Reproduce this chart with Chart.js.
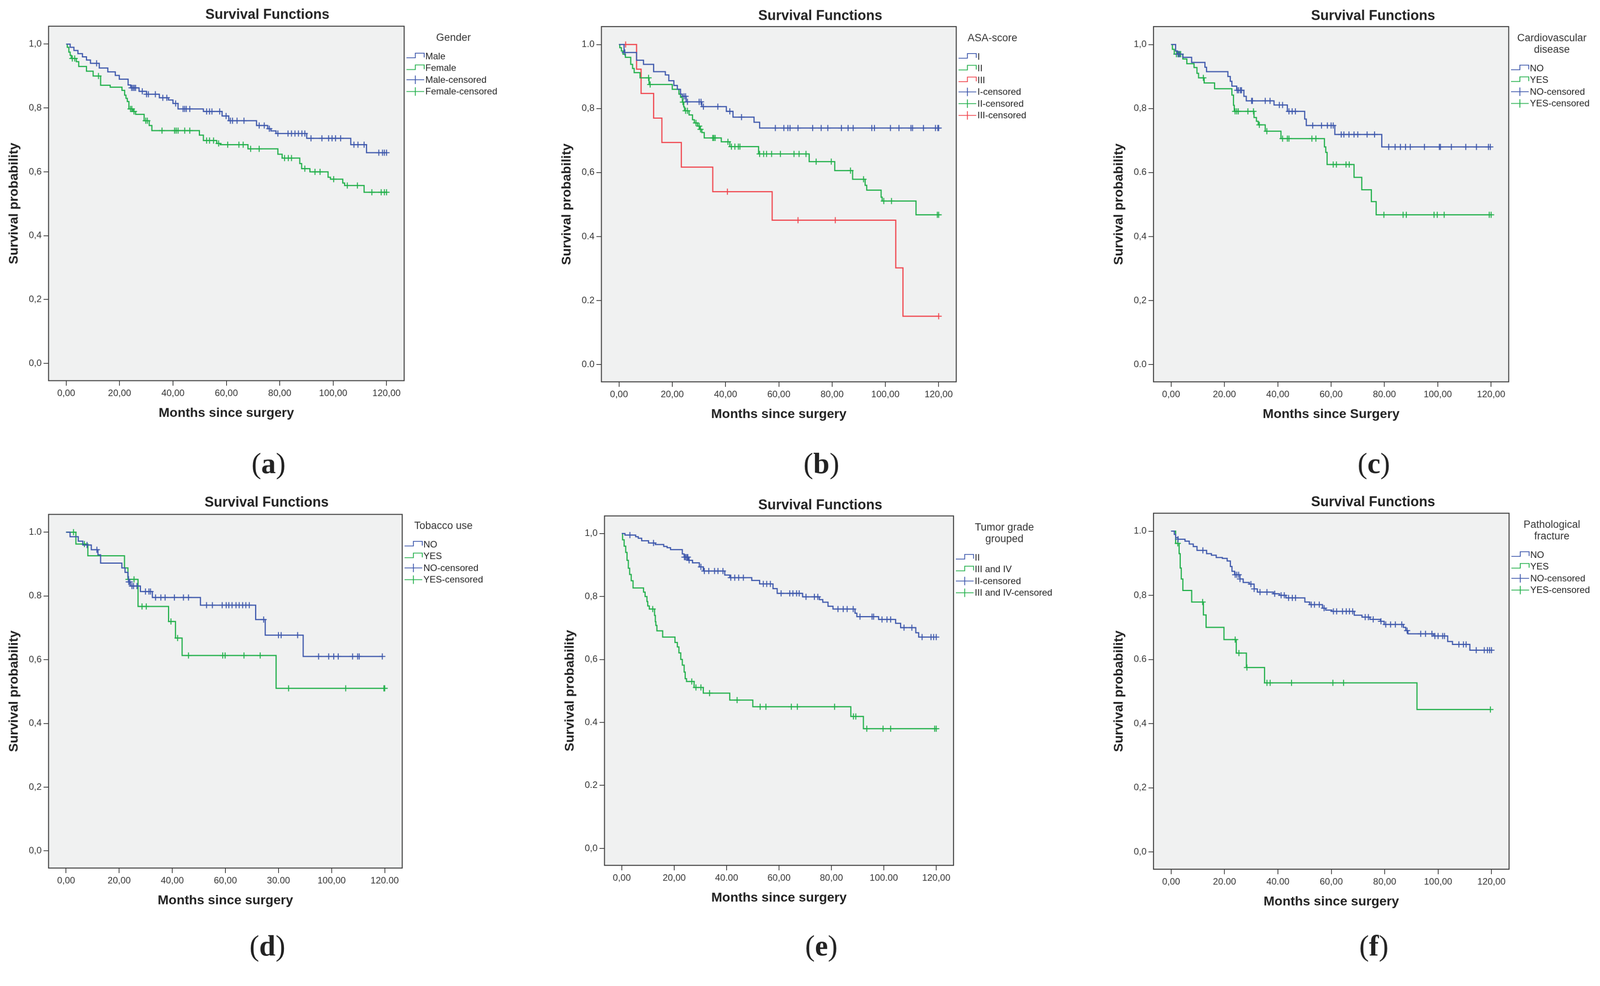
<!DOCTYPE html>
<html>
<head>
<meta charset="utf-8">
<script src="https://cdn.jsdelivr.net/npm/chart.js@4.4.1/dist/chart.umd.min.js"></script>
<style>
  html, body { margin: 0; padding: 0; background: #fff; overflow: hidden; }
  #page { position: absolute; left: 0; top: 0; width: 4153px; height: 2524px; transform-origin: 0 0; background: #fff; }
  canvas { position: absolute; }
</style>
</head>
<body>
<div id="page"></div>
<script>
// ---- data: event times (months), survival after each event, censored times ----
const xTickVals = [0, 20, 40, 60, 80, 100, 120];
const yTickVals = [0, 0.2, 0.4, 0.6, 0.8, 1.0];

// (a) Gender
const aMaleT = [1.5, 2.9, 4.4, 6.1, 7.6, 9.1, 12.4, 15.6, 18.4, 19.9, 23.2, 24.2, 27.3, 30.1, 34.9, 38.3, 40.0, 41.9, 51.4, 58.4, 60.9, 71.3, 75.5, 76.7, 78.6, 90.1, 106.6, 112.5];
const aMaleS = [0.99, 0.98, 0.97, 0.96, 0.95, 0.94, 0.925, 0.913, 0.902, 0.89, 0.872, 0.863, 0.852, 0.843, 0.832, 0.825, 0.814, 0.797, 0.789, 0.775, 0.76, 0.745, 0.735, 0.728, 0.72, 0.705, 0.685, 0.66];
const aMaleC = [11.4, 24.5, 25.0, 25.5, 26.0, 28.5, 30.1, 30.8, 33.4, 36.2, 37.7, 41.0, 43.8, 44.4, 45.0, 46.3, 52.6, 53.7, 54.6, 57.5, 59.9, 61.5, 62.3, 64.0, 66.6, 72.3, 74.2, 76.1, 79.3, 83.1, 84.4, 85.7, 87.0, 88.3, 89.4, 91.7, 95.8, 98.3, 99.6, 100.9, 102.8, 107.8, 109.3, 111.6, 117.1, 118.5, 119.2, 120.0];
const aFemT = [0.4, 1.0, 1.5, 1.9, 3.8, 4.7, 7.6, 10.1, 12.9, 16.5, 20.9, 21.9, 22.4, 22.9, 23.5, 25.0, 26.0, 29.2, 31.1, 32.1, 49.9, 51.4, 56.4, 57.7, 68.1, 79.3, 80.9, 87.5, 88.2, 91.3, 98.1, 99.0, 103.6, 104.3, 111.6];
const aFemS = [0.99, 0.975, 0.965, 0.955, 0.945, 0.93, 0.915, 0.9, 0.871, 0.865, 0.855, 0.84, 0.83, 0.82, 0.797, 0.789, 0.78, 0.76, 0.745, 0.729, 0.715, 0.698, 0.689, 0.685, 0.672, 0.655, 0.643, 0.626, 0.61, 0.6, 0.583, 0.577, 0.565, 0.557, 0.536];
const aFemC = [2.3, 3.2, 12.1, 24.1, 24.6, 25.4, 29.8, 30.4, 35.9, 40.6, 41.2, 41.9, 44.4, 46.3, 52.6, 53.7, 55.2, 57.1, 60.5, 64.7, 66.3, 69.1, 72.3, 81.8, 83.2, 84.4, 89.4, 93.2, 95.1, 100.2, 105.3, 109.1, 114.5, 118.0, 119.2, 120.0];

// (b) ASA-score
const bIT = [1.9, 6.6, 9.2, 13.0, 17.4, 18.7, 20.6, 21.9, 23.1, 23.8, 25.2, 31.1, 40.3, 42.8, 50.7, 52.8];
const bIS = [0.975, 0.951, 0.938, 0.915, 0.905, 0.887, 0.872, 0.86, 0.845, 0.838, 0.821, 0.806, 0.791, 0.773, 0.757, 0.739];
const bIC = [2.2, 24.4, 25.0, 25.7, 30.1, 30.8, 31.7, 37.1, 41.6, 46.0, 58.7, 61.9, 63.4, 64.2, 67.2, 72.7, 75.9, 78.4, 83.5, 86.0, 87.9, 94.9, 95.9, 101.9, 105.1, 109.6, 110.2, 114.3, 118.8, 119.7, 120.0];
const bIIT = [0.3, 0.9, 1.5, 2.4, 4.4, 5.1, 5.7, 7.9, 11.3, 20.0, 22.5, 23.1, 23.8, 24.3, 24.6, 26.3, 27.6, 28.3, 29.5, 30.2, 31.1, 32.0, 38.4, 41.6, 52.4, 71.4, 81.0, 87.7, 92.4, 93.0, 98.4, 98.8, 111.5];
const bIIS = [0.99, 0.98, 0.97, 0.96, 0.938, 0.925, 0.912, 0.896, 0.875, 0.86, 0.845, 0.835, 0.82, 0.805, 0.793, 0.78, 0.765, 0.755, 0.745, 0.735, 0.725, 0.708, 0.696, 0.681, 0.658, 0.634, 0.606, 0.579, 0.56, 0.545, 0.523, 0.511, 0.468];
const bIIC = [11.1, 11.7, 24.0, 25.0, 25.7, 28.9, 30.1, 30.6, 35.2, 35.6, 36.1, 40.9, 42.2, 43.5, 44.8, 45.4, 52.8, 54.3, 55.4, 57.3, 60.6, 65.7, 67.6, 70.2, 74.0, 79.7, 86.9, 91.8, 99.4, 102.3, 119.5, 120.0];
const bIIIT = [6.6, 8.3, 13.0, 16.1, 23.4, 35.2, 57.5, 103.9, 106.6];
const bIIIS = [0.923, 0.847, 0.77, 0.694, 0.617, 0.54, 0.451, 0.302, 0.151];
const bIIIC = [2.5, 40.7, 67.2, 81.2, 120.0];

// (c) Cardiovascular disease
const cNoT = [1.7, 2.4, 4.4, 7.7, 12.7, 13.3, 21.3, 22.2, 22.8, 24.6, 27.3, 28.2, 38.6, 43.6, 50.1, 50.7, 61.4, 79.0];
const cNoS = [0.98, 0.97, 0.96, 0.944, 0.929, 0.915, 0.9, 0.885, 0.87, 0.857, 0.838, 0.824, 0.811, 0.791, 0.767, 0.747, 0.719, 0.68];
const cNoC = [2.6, 3.2, 24.8, 25.3, 26.0, 26.4, 30.2, 30.5, 35.3, 37.1, 40.6, 41.8, 44.2, 45.4, 46.6, 53.1, 56.4, 58.6, 60.0, 60.8, 63.8, 64.8, 66.7, 68.6, 70.0, 73.5, 76.3, 81.6, 84.0, 86.0, 87.9, 89.7, 95.0, 100.6, 101.0, 105.1, 110.5, 114.5, 119.0, 119.7];
const cYesT = [0.5, 1.2, 4.4, 5.9, 8.6, 9.7, 10.3, 12.4, 16.3, 22.8, 23.4, 23.7, 31.1, 32.0, 32.7, 35.3, 41.2, 57.5, 58.0, 58.5, 68.6, 71.5, 75.1, 76.9];
const cYesS = [0.985, 0.97, 0.955, 0.94, 0.928, 0.91, 0.896, 0.88, 0.862, 0.842, 0.81, 0.791, 0.772, 0.76, 0.749, 0.729, 0.706, 0.68, 0.663, 0.625, 0.585, 0.546, 0.509, 0.468];
const cYesC = [2.0, 2.9, 3.6, 12.1, 24.0, 24.6, 25.2, 28.8, 30.9, 33.1, 35.9, 41.8, 43.6, 44.2, 52.8, 54.3, 60.8, 62.0, 65.6, 66.8, 79.8, 87.0, 88.2, 98.6, 99.8, 102.4, 119.3, 120.0];

// (d) Tobacco use
const dNoT = [1.5, 4.6, 6.3, 9.5, 12.0, 13.0, 21.0, 22.2, 23.3, 23.5, 24.2, 28.0, 32.5, 50.6, 71.4, 75.0, 89.3];
const dNoS = [0.986, 0.972, 0.96, 0.945, 0.929, 0.903, 0.888, 0.874, 0.86, 0.844, 0.831, 0.814, 0.795, 0.771, 0.726, 0.677, 0.61];
const dNoC = [7.9, 11.6, 23.6, 24.0, 24.8, 25.4, 26.7, 29.9, 31.2, 31.8, 33.7, 35.7, 37.3, 40.8, 44.2, 46.1, 52.9, 55.1, 58.8, 60.3, 61.3, 62.5, 64.0, 65.2, 66.5, 67.7, 69.0, 74.4, 80.0, 81.0, 87.2, 95.1, 98.9, 100.8, 102.5, 107.9, 109.8, 110.4, 119.1];
const dYesT = [3.7, 8.2, 22.0, 23.3, 27.1, 38.6, 41.2, 43.7, 79.1];
const dYesS = [0.963, 0.926, 0.888, 0.852, 0.767, 0.72, 0.668, 0.613, 0.51];
const dYesC = [2.8, 6.9, 23.5, 25.6, 28.6, 30.2, 39.5, 42.0, 46.1, 59.0, 59.9, 67.0, 73.1, 83.8, 105.3, 119.7, 120.0];

// (e) Tumor grade grouped
const eIIT = [1.2, 5.3, 6.3, 7.6, 10.2, 12.8, 16.0, 17.3, 18.6, 23.1, 23.8, 25.4, 27.0, 29.6, 31.1, 39.3, 41.2, 49.6, 52.6, 57.7, 59.3, 69.0, 75.4, 76.7, 78.7, 80.6, 89.0, 89.7, 98.0, 104.5, 106.4, 112.2, 113.3];
const eIIS = [0.995, 0.99, 0.985, 0.977, 0.97, 0.965, 0.959, 0.955, 0.949, 0.935, 0.925, 0.915, 0.907, 0.894, 0.881, 0.868, 0.86, 0.851, 0.84, 0.825, 0.81, 0.799, 0.79, 0.782, 0.769, 0.76, 0.747, 0.736, 0.727, 0.715, 0.701, 0.685, 0.671];
const eIIC = [3.1, 12.1, 23.9, 24.3, 24.8, 25.2, 25.7, 30.2, 31.5, 33.2, 35.4, 36.7, 38.6, 41.6, 43.1, 44.6, 46.4, 54.0, 55.3, 56.7, 60.8, 64.1, 65.3, 66.7, 67.7, 70.3, 73.5, 74.8, 82.5, 84.5, 86.0, 88.3, 90.9, 95.5, 96.1, 99.3, 101.2, 102.6, 107.7, 110.7, 114.6, 118.0, 119.0, 120.0];
const eIIIT = [0.3, 0.9, 1.5, 2.0, 2.5, 3.0, 3.6, 4.3, 8.3, 8.9, 9.6, 9.9, 10.5, 12.5, 12.8, 13.0, 13.4, 15.6, 20.3, 21.2, 21.8, 22.5, 23.1, 23.8, 24.2, 24.7, 27.6, 31.1, 41.2, 50.0, 87.4, 92.2];
const eIIIS = [0.98, 0.96, 0.94, 0.915, 0.89, 0.87, 0.85, 0.827, 0.814, 0.8, 0.784, 0.77, 0.76, 0.74, 0.72, 0.708, 0.691, 0.671, 0.654, 0.64, 0.621, 0.6, 0.582, 0.56, 0.539, 0.53, 0.511, 0.493, 0.471, 0.45, 0.419, 0.38];
const eIIIC = [11.8, 26.7, 28.3, 30.2, 33.5, 44.0, 52.8, 55.0, 64.7, 67.0, 81.2, 88.4, 89.3, 93.5, 99.7, 102.6, 119.4, 120.0];

// (f) Pathological fracture
const fNoT = [1.2, 1.7, 2.6, 5.2, 6.8, 8.3, 9.7, 13.3, 15.1, 16.9, 19.2, 21.0, 22.2, 22.8, 23.8, 25.8, 27.0, 29.3, 31.1, 32.3, 38.3, 40.6, 43.0, 50.1, 51.9, 56.7, 57.9, 60.2, 68.6, 71.5, 74.5, 78.4, 79.8, 87.0, 87.9, 88.7, 98.3, 103.6, 105.4, 111.9];
const fNoS = [0.99, 0.98, 0.975, 0.969, 0.96, 0.952, 0.94, 0.93, 0.925, 0.918, 0.915, 0.907, 0.89, 0.875, 0.864, 0.851, 0.84, 0.835, 0.82, 0.81, 0.805, 0.8, 0.792, 0.779, 0.771, 0.76, 0.754, 0.75, 0.738, 0.732, 0.725, 0.719, 0.709, 0.7, 0.69, 0.68, 0.673, 0.656, 0.647, 0.629];
const fNoC = [2.6, 11.9, 24.0, 24.6, 25.3, 25.8, 29.9, 31.1, 33.3, 35.9, 38.8, 41.2, 42.4, 44.0, 45.4, 46.6, 52.5, 53.7, 55.5, 57.3, 60.8, 62.0, 64.2, 65.6, 66.8, 68.0, 72.7, 73.9, 75.7, 78.6, 80.4, 82.2, 84.0, 86.4, 88.4, 93.5, 95.3, 97.7, 98.8, 100.0, 101.7, 102.4, 107.8, 109.5, 110.5, 114.3, 117.3, 118.5, 119.3, 120.0];
const fYesT = [1.7, 3.0, 3.4, 3.8, 4.4, 7.7, 12.1, 13.1, 19.8, 24.4, 28.2, 35.0, 92.1];
const fYesS = [0.962, 0.93, 0.885, 0.851, 0.815, 0.779, 0.739, 0.7, 0.662, 0.62, 0.575, 0.527, 0.444];
const fYesC = [2.5, 11.8, 24.0, 25.4, 28.4, 35.9, 37.1, 45.1, 60.6, 64.6, 119.6];

// tick labels as printed in each panel
const aYLab = ['0,0', '0,2', '0,4', '0,6', '0,8', '1,0'];
const aXLab = ['0,00', '20,00', '40,00', '60,00', '80,00', '100,00', '120,00'];
const bYLab = ['0.0', '0.2', '0.4', '0,6', '0,8', '1.0'];
const bXLab = ['0,00', '20,00', '40,00', '60,00', '80,00', '100,00', '120,00'];
const cYLab = ['0.0', '0,2', '0,4', '0.6', '0,8', '1,0'];
const cXLab = ['0,00', '20.00', '40,00', '60,00', '80.00', '100,00', '120,00'];
const dYLab = ['0,0', '0,2', '0,4', '0,6', '0.8', '1.0'];
const dXLab = ['0,00', '20,00', '40,00', '60,00', '30.00', '100,00', '120.00'];
const eYLab = ['0,0', '0.2', '0.4', '0,6', '0,8', '1,0'];
const eXLab = ['0,00', '20,00', '40.00', '60,00', '80,00', '100.00', '120,00'];
const fYLab = ['0,0', '0,2', '0,4', '0.6', '0,8', '1.0'];
const fXLab = ['0,00', '20.00', '40.00', '60,00', '80,00', '100,00', '120,00'];

const BLUE = '#3e58ac', GREEN = '#22b04b', RED = '#f0474f';

// layout, in page pixels
const panels = [
  { tag: 'a', plot: [126, 68, 1049, 988], title: [694, 39], legX: 1177, label: [697, 1208], legTitle: ['Gender'],
    names: ['Male', 'Female'], curves: [[aMaleT, aMaleS, aMaleC, BLUE], [aFemT, aFemS, aFemC, GREEN]], yLab: aYLab, xLab: aXLab, xTitle: 'Months since surgery' },
  { tag: 'b', plot: [1561, 69, 2482, 991], title: [2129, 42], legX: 2576, label: [2132, 1208], legTitle: ['ASA-score'],
    names: ['I', 'II', 'III'], curves: [[bIT, bIS, bIC, BLUE], [bIIT, bIIS, bIIC, GREEN], [bIIIT, bIIIS, bIIIC, RED]], yLab: bYLab, xLab: bXLab, xTitle: 'Months since surgery' },
  { tag: 'c', plot: [2994, 69, 3916, 991], title: [3564, 42], legX: 4028, label: [3566, 1208], legTitle: ['Cardiovascular', 'disease'],
    names: ['NO', 'YES'], curves: [[cNoT, cNoS, cNoC, BLUE], [cYesT, cYesS, cYesC, GREEN]], yLab: cYLab, xLab: cXLab, xTitle: 'Months since Surgery' },
  { tag: 'd', plot: [126, 1335, 1044, 2253], title: [692, 1305], legX: 1151, label: [694, 2460], legTitle: ['Tobacco use'],
    names: ['NO', 'YES'], curves: [[dNoT, dNoS, dNoC, BLUE], [dYesT, dYesS, dYesC, GREEN]], yLab: dYLab, xLab: dXLab, xTitle: 'Months since surgery' },
  { tag: 'e', plot: [1569, 1339, 2475, 2246], title: [2129, 1312], legX: 2607, label: [2132, 2460], legTitle: ['Tumor grade', 'grouped'],
    names: ['II', 'III and IV'], curves: [[eIIT, eIIS, eIIC, BLUE], [eIIIT, eIIIS, eIIIC, GREEN]], yLab: eYLab, xLab: eXLab, xTitle: 'Months since surgery' },
  { tag: 'f', plot: [2994, 1332, 3917, 2256], title: [3564, 1304], legX: 4028, label: [3566, 2460], legTitle: ['Pathological', 'fracture'],
    names: ['NO', 'YES'], curves: [[fNoT, fNoS, fNoC, BLUE], [fYesT, fYesS, fYesC, GREEN]], yLab: fYLab, xLab: fXLab, xTitle: 'Months since surgery' }
];

const AXIS_W = 130, AXIS_H = 262, PAD_TOP = 66;
Chart.defaults.font.family = '"Liberation Sans", Arial, sans-serif';

// fit the 4153x2524 design into whatever the viewport really is
const page = document.getElementById('page');
const fit = Math.min(window.innerWidth / 4153, window.innerHeight / 2524);
page.style.transform = 'scale(' + fit + ')';

// Kaplan-Meier step: survival level in force at time t
function survAt(T, S, t) {
  let s = 1;
  for (let i = 0; i < T.length; i++) if (T[i] <= t) s = S[i];
  return s;
}

function stepPoints(T, S, C) {
  const pts = [{ x: 0, y: 1 }];
  T.forEach((t, i) => pts.push({ x: t, y: S[i] }));
  const end = Math.max(T[T.length - 1], ...C);
  pts.push({ x: end, y: S[S.length - 1] });
  return pts;
}

function makeExtras(p, ox, oy) {
  return {
    id: 'extras',
    beforeDraw(chart) {
      const { ctx, chartArea: a } = chart;
      ctx.save();
      ctx.fillStyle = '#f0f1f1';
      ctx.fillRect(a.left, a.top, a.right - a.left, a.bottom - a.top);
      ctx.restore();
    },
    afterDraw(chart) {
      const { ctx, chartArea: a } = chart;
      ctx.save();
      ctx.strokeStyle = '#3a3a3a';
      ctx.lineWidth = 2.5;
      ctx.strokeRect(a.left, a.top, a.right - a.left, a.bottom - a.top);

      // title
      ctx.fillStyle = '#222';
      ctx.textAlign = 'center';
      ctx.textBaseline = 'middle';
      ctx.font = 'bold 36px "Liberation Sans"';
      ctx.fillText('Survival Functions', p.title[0] - ox, p.title[1] - oy);

      // legend
      ctx.fillStyle = '#333';
      ctx.font = '27px "Liberation Sans"';
      p.legTitle.forEach((t, i) => ctx.fillText(t, p.legX - ox, a.top + 31 + i * 30));
      const y0 = a.top + 31 + (p.legTitle.length - 1) * 30 + 47;
      const items = p.names.map((n, i) => ({ label: n, color: p.curves[i][3], cens: false }))
        .concat(p.names.map((n, i) => ({ label: n + '-censored', color: p.curves[i][3], cens: true })));
      ctx.textAlign = 'left';
      ctx.font = '24px "Liberation Sans"';
      items.forEach((it, i) => {
        const y = y0 + i * 30.5, x0 = a.right + 6, x1 = a.right + 52, xm = (x0 + x1) / 2;
        ctx.strokeStyle = it.color;
        ctx.lineWidth = 2.2;
        ctx.beginPath();
        if (it.cens) {
          ctx.moveTo(x0, y); ctx.lineTo(x1, y);
          ctx.moveTo(xm, y - 11); ctx.lineTo(xm, y + 11);
        } else {
          ctx.moveTo(x0, y + 4); ctx.lineTo(xm, y + 4); ctx.lineTo(xm, y - 8);
          ctx.lineTo(x1, y - 8); ctx.lineTo(x1, y + 3);
        }
        ctx.stroke();
        ctx.fillStyle = '#222';
        ctx.fillText(it.label, x1 + 3, y + 1);
      });

      // panel letter
      const regular = '76px "Liberation Serif"', bold = 'bold 76px "Liberation Serif"';
      ctx.font = regular; const wl = ctx.measureText('(').width, wr = ctx.measureText(')').width;
      ctx.font = bold; const wm = ctx.measureText(p.tag).width;
      let x = p.label[0] - ox - (wl + wm + wr) / 2;
      const y = p.label[1] - oy;
      ctx.fillStyle = '#222';
      ctx.textBaseline = 'middle';
      ctx.font = regular; ctx.fillText('(', x, y); x += wl;
      ctx.font = bold; ctx.fillText(p.tag, x, y); x += wm;
      ctx.font = regular; ctx.fillText(')', x, y);
      ctx.restore();
    }
  };
}

panels.forEach(p => {
  const [l, t, r, b] = p.plot;
  const rightRoom = p.tag === 'c' || p.tag === 'f' ? 4153 - r : 330;
  const ox = l - AXIS_W, oy = t - PAD_TOP;
  const cv = document.createElement('canvas');
  cv.width = AXIS_W + (r - l) + rightRoom;
  cv.height = PAD_TOP + (b - t) + AXIS_H;
  cv.style.left = ox + 'px';
  cv.style.top = oy + 'px';
  page.appendChild(cv);

  const datasets = [];
  p.curves.forEach(([T, S, C, color]) => {
    datasets.push({
      data: stepPoints(T, S, C), showLine: true, stepped: 'before',
      borderColor: color, borderWidth: 3, pointRadius: 0, fill: false
    });
    datasets.push({
      data: C.map(c => ({ x: c, y: survAt(T, S, c) })), showLine: false,
      pointStyle: 'cross', pointRadius: 8, pointBorderColor: color, pointBorderWidth: 2.5,
      pointBackgroundColor: color
    });
  });

  new Chart(cv, {
    type: 'scatter',
    data: { datasets },
    options: {
      responsive: false,
      animation: false,
      events: [],
      layout: { padding: { top: PAD_TOP, right: rightRoom, left: 0, bottom: 0 } },
      plugins: { legend: { display: false }, tooltip: { enabled: false }, title: { display: false } },
      scales: {
        x: {
          type: 'linear', min: -6.6, max: 126.6,
          afterFit: s => { s.height = AXIS_H; },
          afterBuildTicks: s => { s.ticks = xTickVals.map(v => ({ value: v })); },
          grid: { drawOnChartArea: false, drawTicks: true, tickLength: 13, color: '#3a3a3a', lineWidth: 2 },
          border: { display: false },
          ticks: { autoSkip: false, maxRotation: 0, padding: 6, color: '#333', font: { size: 24 },
                   callback: (v, i) => p.xLab[i] },
          title: { display: true, text: p.xTitle, color: '#222',
                   font: { size: 34, weight: 'bold', lineHeight: 1.2 }, padding: { top: 0, bottom: AXIS_H - 85 - 20.4 } }
        },
        y: {
          type: 'linear', min: -0.054, max: 1.056,
          afterFit: s => { s.width = AXIS_W; },
          afterBuildTicks: s => { s.ticks = yTickVals.map(v => ({ value: v })); },
          grid: { drawOnChartArea: false, drawTicks: true, tickLength: 13, color: '#3a3a3a', lineWidth: 2 },
          border: { display: false },
          ticks: { autoSkip: false, padding: 5, color: '#333', font: { size: 24 },
                   callback: (v, i) => p.yLab[i] },
          title: { display: true, text: 'Survival probability', color: '#222',
                   font: { size: 34, weight: 'bold', lineHeight: 1.2 }, padding: { top: AXIS_W - 89 - 20.4, bottom: 0 } }
        }
      }
    },
    plugins: [makeExtras(p, ox, oy)]
  });
});
</script>
</body>
</html>
